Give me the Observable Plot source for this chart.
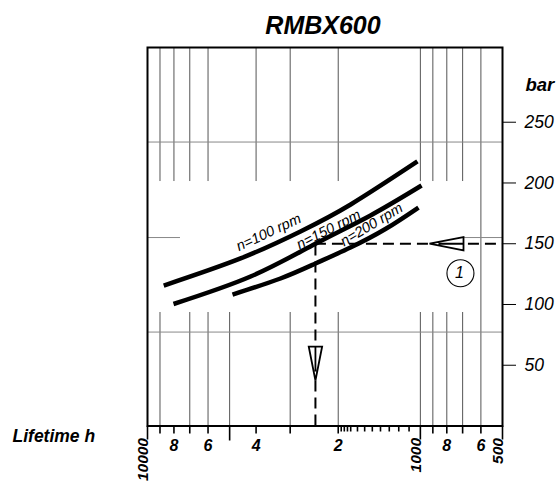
<!DOCTYPE html>
<html>
<head>
<meta charset="utf-8">
<script src="https://cdn.jsdelivr.net/npm/d3@7"></script>
<script src="https://cdn.jsdelivr.net/npm/@observablehq/plot@0.6"></script>
<style>
  html, body { margin: 0; padding: 0; background: white; }
</style>
</head>
<body>
<div id="chart"></div>
<script>
// ---------- data ----------
const title = "RMBX600";
const yUnit = "bar";
const xLabel = "Lifetime h";

const yTicks = [50, 100, 150, 200, 250];
const xDigitTicks = [8000, 6000, 4000, 2000, 800, 600];
const xDigitLabels = ["8", "6", "4", "2", "8", "6"];
const xPlainTicks = [9000, 7000, 3000, 900, 700];
const xLongTicks = [5000];
const xMinorTicks = [1950, 1900, 1850, 1800, 1700, 1600, 1500, 1400, 1300, 1200, 1100];
const xRotTicks = [10000, 1000, 500];

const speeds = ["n=100 rpm", "n=150 rpm", "n=200 rpm"];
const life100 = [8720, 4560, 2750, 1800, 1025];
const load100 = [115.6, 137.9, 160.1, 182.3, 217.7];
const life150 = [8030, 4190, 2424, 1523, 990];
const load150 = [100.4, 123.0, 150.0, 173.3, 197.9];
const life200 = [4880, 3256, 2424, 1804, 1343, 1016];
const load200 = [108.2, 121.4, 133.7, 146.9, 162.1, 179.8];

// label anchor for each speed curve: lifetime, load, angle
const labelLife = [3600, 2170, 1510];
const labelLoad = [159.3, 161.7, 165.8];
const labelAngle = [-25, -27, -31];

// example reading (dashed)
const exampleLife = 2424;
const exampleLoad = 150;
const arrowLife = [2424, 802];
const arrowLoad = [51.4, 150];
const arrowAngle = [0, 90];
const markerLife = 713;
const markerLoad = 125.7;
const markerText = "1";

// grid
const upperGrid = [9000, 8000, 7000, 6000, 4000, 3000, 2000, 1000, 900, 800, 700];
const lowerGrid = [9000, 7000, 6000, 5000, 3000, 2000, 1000, 900, 800, 700];
const fullGrid = [600];
const upperGridFrom = 201.2;
const lowerGridTo = 93.4;
const hGridFull = [233.7, 77.3];
const hGridStub = 155.1;
const hStubLeftTo = 7570;
const hStubRightFrom = 700;

const yMax = 311.5;
const xDomain = [10000, 500];

// ---------- build rows ----------
const curveRows = [
  ...life100.map((L, i) => ({L, p: load100[i], s: speeds[0]})),
  ...life150.map((L, i) => ({L, p: load150[i], s: speeds[1]})),
  ...life200.map((L, i) => ({L, p: load200[i], s: speeds[2]}))
];
const labelRows = speeds.map((s, i) => ({s, L: labelLife[i], p: labelLoad[i], a: labelAngle[i]}));
const arrowRows = arrowLife.map((L, i) => ({L, p: arrowLoad[i], a: arrowAngle[i]}));
const digitRows = xDigitTicks.map((t, i) => ({t, lab: xDigitLabels[i]}));

const arrowSymbol = {
  draw(ctx) {
    ctx.moveTo(-6.7, -17);
    ctx.lineTo(6.7, -17);
    ctx.lineTo(0, 17);
    ctx.closePath();
    ctx.moveTo(0, -17);
    ctx.lineTo(0, 8);
  }
};

const FONT = "'Liberation Sans', Arial, Helvetica, sans-serif";
const gridColor = "#555";
const hGridColor = "#888";
const noLabel = () => "";

const chart = Plot.plot({
  width: 559,
  height: 484,
  marginLeft: 147,
  marginRight: 57,
  marginTop: 47,
  marginBottom: 58.5,
  x: {type: "log", domain: xDomain, axis: null},
  y: {domain: [0, yMax], axis: null},
  style: {fontFamily: FONT, background: "white", overflow: "visible"},
  marks: [
    // grid
    Plot.ruleX(upperGrid, {x: d => d, y1: upperGridFrom, y2: yMax, stroke: gridColor, strokeWidth: 1}),
    Plot.ruleX(lowerGrid, {x: d => d, y1: 0, y2: lowerGridTo, stroke: gridColor, strokeWidth: 1}),
    Plot.ruleX(fullGrid, {x: d => d, y1: 0, y2: yMax, stroke: gridColor, strokeWidth: 1}),
    Plot.ruleY(hGridFull, {y: d => d, stroke: hGridColor, strokeWidth: 1}),
    Plot.ruleY([hGridStub], {y: d => d, x1: xDomain[0], x2: hStubLeftTo, stroke: hGridColor, strokeWidth: 1}),
    Plot.ruleY([hGridStub], {y: d => d, x1: hStubRightFrom, x2: xDomain[1], stroke: hGridColor, strokeWidth: 1}),

    // example dashed reading
    Plot.ruleX([exampleLife], {x: d => d, y1: 0, y2: exampleLoad, stroke: "black", strokeWidth: 2, strokeDasharray: "11,6"}),
    Plot.ruleY([exampleLoad], {y: d => d, x1: exampleLife, x2: xDomain[1], stroke: "black", strokeWidth: 2, strokeDasharray: "11,6"}),
    Plot.dot(arrowRows, {x: "L", y: "p", rotate: "a", symbol: arrowSymbol, r: 5, fill: "white", stroke: "black", strokeWidth: 1.8}),
    Plot.dot([markerLife], {x: d => d, y: markerLoad, r: 13.5, fill: "none", stroke: "black", strokeWidth: 1.1}),
    Plot.text([markerText], {x: markerLife, y: markerLoad, text: d => d, fontSize: 16, fontStyle: "italic", dx: -1}),

    // curves
    Plot.line(curveRows, {x: "L", y: "p", z: "s", curve: "natural", stroke: "black", strokeWidth: 4.5, strokeLinecap: "butt"}),
    Plot.text(labelRows, {x: "L", y: "p", text: "s", rotate: "a", fontSize: 14.5, fontStyle: "italic"}),

    // frame
    Plot.frame({stroke: "black", strokeWidth: 2}),

    // y axis (right)
    Plot.axisY(yTicks, {anchor: "right", label: null, tickSize: 13, tickPadding: 9, strokeWidth: 1, fontSize: 17.5, fontStyle: "italic", textAnchor: "start", tickFormat: d => String(d)}),
    Plot.text([yUnit], {frameAnchor: "top-right", dx: 23, dy: 38, textAnchor: "start", lineAnchor: "middle", text: d => d, fontSize: 18.5, fontWeight: "bold", fontStyle: "italic"}),

    // x axis ticks
    Plot.axisX(xDigitTicks, {anchor: "bottom", label: null, tickSize: 8, strokeWidth: 1.6, tickFormat: noLabel}),
    Plot.axisX(xPlainTicks, {anchor: "bottom", label: null, tickSize: 8, strokeWidth: 1.6, tickFormat: noLabel}),
    Plot.axisX(xLongTicks, {anchor: "bottom", label: null, tickSize: 15, strokeWidth: 1.6, tickFormat: noLabel}),
    Plot.axisX(xMinorTicks, {anchor: "bottom", label: null, tickSize: 6, strokeWidth: 1.6, tickFormat: noLabel}),
    Plot.axisX(xRotTicks, {anchor: "bottom", label: null, tickSize: 14, strokeWidth: 1.6, tickFormat: noLabel}),
    Plot.text(digitRows, {x: "t", frameAnchor: "bottom", text: "lab", lineAnchor: "top", dy: 14, fontSize: 16, fontWeight: "bold", fontStyle: "italic"}),
    Plot.text(xRotTicks, {x: d => d, frameAnchor: "bottom", text: d => String(d), rotate: -90, textAnchor: "end", lineAnchor: "middle", dx: -4, dy: 12, fontSize: 15.5, fontWeight: "bold", fontStyle: "italic"}),

    // titles
    Plot.text([title], {frameAnchor: "top", dx: -2, dy: -22, lineAnchor: "middle", text: d => d, fontSize: 25, fontWeight: "bold", fontStyle: "italic"}),
    Plot.text([xLabel], {frameAnchor: "bottom-left", dx: -135, dy: 10, textAnchor: "start", lineAnchor: "middle", text: d => d, fontSize: 17.5, fontWeight: "bold", fontStyle: "italic"})
  ]
});

document.getElementById("chart").appendChild(chart);
</script>
</body>
</html>
